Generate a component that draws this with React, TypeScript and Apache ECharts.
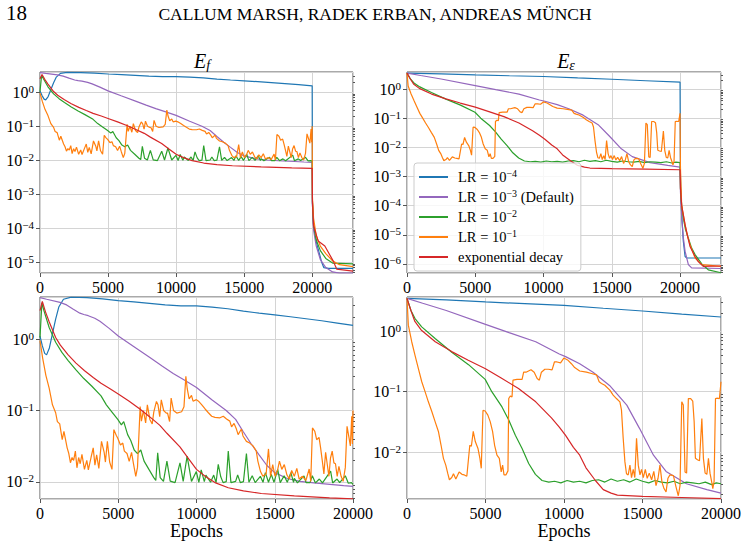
import React, { useEffect, useRef } from "react";
import * as echarts from "echarts";

// ---- Training curves, E_f (epochs 0..20000) ----
const efLr4: [number, number][] = [
  [0, 1.1], [150, 0.8], [300, 0.63], [420, 0.6], [600, 0.75], [800, 1.2], [1000, 1.9], [1200, 2.8],
  [1500, 3.6], [2000, 3.85], [3000, 3.8], [4000, 3.65], [5000, 3.45], [6000, 3.3], [7000, 3.15],
  [8000, 3.0], [9000, 2.9], [10000, 2.9], [11000, 2.8], [12000, 2.65], [13000, 2.45], [14000, 2.3],
  [15000, 2.18], [16000, 2.05], [17000, 1.92], [18000, 1.8], [19000, 1.67], [20000, 1.55],
];
const efLr3: [number, number][] = [
  [0, 3.8], [425, 3.6], [1280, 3.25], [1700, 3.0], [2130, 2.6], [2550, 2.3], [2800, 2.2], [3085, 2.12],
  [3500, 1.95], [3830, 1.77], [4400, 1.42], [5000, 1.1], [5960, 0.79], [7020, 0.55], [7800, 0.42],
  [8510, 0.33], [9300, 0.26], [10000, 0.21], [11000, 0.14], [11900, 0.1], [12500, 0.075], [13000, 0.05],
  [13500, 0.034], [14000, 0.024], [14500, 0.017], [15000, 0.0135], [15800, 0.0112], [16600, 0.0102],
  [17500, 0.0097], [18700, 0.0092], [19400, 0.0089], [20000, 0.0087],
];
const efLr2: [number, number][] = [
  [0, 1.05], [120, 3.2], [250, 2.5], [585, 1.45], [1000, 0.9], [1400, 0.65], [1800, 0.5], [2300, 0.37],
  [2800, 0.28], [3300, 0.22], [3900, 0.16], [4240, 0.12], [4600, 0.095], [4970, 0.075], [5200, 0.063],
  [5350, 0.07], [5600, 0.046], [5800, 0.038], [6020, 0.028], [6230, 0.025], [6440, 0.028], [6650, 0.0196],
  [6960, 0.015], [7270, 0.0115], [7400, 0.0105], [7520, 0.0256], [7680, 0.0115], [7890, 0.0102],
  [8110, 0.0196], [8320, 0.0103], [8630, 0.0098], [8945, 0.0185], [9150, 0.0102], [9400, 0.023],
  [9680, 0.0102], [9990, 0.014], [10150, 0.0099], [10300, 0.0148], [10500, 0.0101], [10600, 0.0125],
  [10900, 0.0099], [11100, 0.0125], [11250, 0.0098], [11390, 0.0177], [11550, 0.0118], [11700, 0.0098],
  [11900, 0.0101], [12030, 0.027], [12200, 0.0098], [12500, 0.0102], [12630, 0.0125], [12800, 0.0098],
  [13000, 0.0101], [13190, 0.025], [13350, 0.0099], [13560, 0.0122], [13750, 0.0098], [14080, 0.012],
  [14250, 0.0099], [14400, 0.0135], [14600, 0.0099], [14780, 0.0128], [14950, 0.0099], [15190, 0.015],
  [15350, 0.0098], [15600, 0.0122], [15800, 0.0099], [16030, 0.0135], [16200, 0.0099], [16250, 0.0112],
  [16450, 0.0097], [16870, 0.0122], [17000, 0.0098], [17250, 0.0098], [17400, 0.0122], [17600, 0.0097],
  [17850, 0.011], [18050, 0.0097], [18570, 0.0142], [18700, 0.0097], [18980, 0.011], [19150, 0.0098],
  [19510, 0.0122], [19700, 0.0096], [19900, 0.0098], [20000, 0.0093],
];
const efLr1: [number, number][] = [
  [0, 0.95], [170, 0.54], [375, 0.31], [585, 0.206], [795, 0.12], [1000, 0.093], [1110, 0.07],
  [1260, 0.065], [1420, 0.039], [1530, 0.051], [1735, 0.03], [1840, 0.025], [1945, 0.0186], [2050, 0.022],
  [2150, 0.02], [2260, 0.027], [2360, 0.0158], [2470, 0.022], [2570, 0.018], [2680, 0.0244], [2840, 0.015],
  [2990, 0.02], [3090, 0.0148], [3260, 0.022], [3400, 0.03], [3510, 0.0172], [3620, 0.024], [3760, 0.0155],
  [3930, 0.037], [4100, 0.026], [4180, 0.019], [4305, 0.037], [4450, 0.019], [4600, 0.015], [4720, 0.054],
  [4870, 0.045], [4970, 0.041], [5140, 0.033], [5290, 0.035], [5390, 0.027], [5560, 0.025], [5700, 0.0194],
  [5850, 0.026], [5980, 0.0176], [6120, 0.012], [6230, 0.016], [6400, 0.114], [6480, 0.071], [6610, 0.1],
  [6750, 0.067], [6860, 0.12], [7020, 0.075], [7170, 0.065], [7270, 0.095], [7440, 0.134], [7540, 0.12],
  [7650, 0.082], [7750, 0.141], [7900, 0.1], [8070, 0.092], [8150, 0.092], [8280, 0.07], [8380, 0.149],
  [8530, 0.1], [8740, 0.092], [9050, 0.096], [9200, 0.113], [9320, 0.3], [9410, 0.2], [9530, 0.145],
  [9680, 0.163], [9780, 0.135], [9990, 0.142], [10127, 0.135], [10340, 0.12], [10550, 0.105],
  [10760, 0.093], [10970, 0.083], [11180, 0.08], [11500, 0.079], [11710, 0.083], [11920, 0.076],
  [12130, 0.071], [12240, 0.059], [12400, 0.066], [12550, 0.055], [12660, 0.046], [12870, 0.055],
  [12970, 0.044], [13190, 0.037], [13400, 0.035], [13610, 0.032], [13820, 0.027], [13920, 0.0196],
  [14090, 0.014], [14240, 0.012], [14450, 0.013], [14600, 0.029], [14730, 0.012], [14870, 0.0175],
  [15020, 0.012], [15190, 0.015], [15300, 0.0196], [15450, 0.015], [15610, 0.0175], [15780, 0.0125],
  [15930, 0.011], [16080, 0.0145], [16250, 0.012], [16410, 0.0155], [16560, 0.011], [16770, 0.012],
  [16990, 0.0105], [17200, 0.0152], [17300, 0.0102], [17410, 0.057], [17560, 0.051], [17680, 0.039],
  [17830, 0.042], [17930, 0.03], [18040, 0.0196], [18140, 0.013], [18250, 0.026], [18350, 0.018],
  [18460, 0.012], [18560, 0.0215], [18670, 0.027], [18780, 0.0185], [18880, 0.018], [18990, 0.012],
  [19100, 0.0165], [19240, 0.012], [19370, 0.0102], [19510, 0.016], [19620, 0.06], [19750, 0.041],
  [19830, 0.032], [19920, 0.083], [19960, 0.034], [20000, 0.1],
];
const efExp: [number, number][] = [
  [0, 2.5], [150, 3.35], [350, 2.4], [585, 1.74], [1000, 1.05], [1300, 0.82], [1800, 0.6], [2300, 0.46],
  [2850, 0.36], [3400, 0.29], [3900, 0.24], [4500, 0.2], [5000, 0.17], [5700, 0.135], [6380, 0.105],
  [7000, 0.082], [7660, 0.062], [8110, 0.048], [8940, 0.031], [9500, 0.021], [10000, 0.015],
  [10550, 0.012], [11180, 0.0098], [12030, 0.0083], [13000, 0.0075], [14140, 0.0069], [16250, 0.0064],
  [18500, 0.006], [20000, 0.0058],
];

// ---- E_f after epoch 20000 ----
const efLr4Tail: [number, number][] = [
  [20020, 5e-4], [20100, 1.2e-4], [20300, 4e-5], [20500, 2e-5], [20700, 1e-5], [20850, 7e-6],
  [21200, 6.6e-6], [23000, 6.6e-6],
];
const efLr3Tail: [number, number][] = [
  [20020, 5e-4], [20100, 9e-5], [20300, 3e-5], [20600, 1.2e-5], [21000, 7e-6], [21500, 5.2e-6],
  [22000, 4.8e-6], [23000, 4.8e-6],
];
const efLr2Tail: [number, number][] = [
  [20020, 6e-4], [20100, 1.3e-4], [20300, 4.5e-5], [20600, 2.2e-5], [21000, 1.3e-5], [21500, 9.5e-6],
  [23000, 9e-6],
];
const efLr1Tail: [number, number][] = [
  [20020, 8e-4], [20100, 2e-4], [20300, 6e-5], [20600, 3e-5], [21000, 1.8e-5], [21500, 1.1e-5],
  [22000, 8.5e-6], [23000, 7.5e-6],
];
const efExpTail: [number, number][] = [
  [20020, 6e-4], [20100, 1.2e-4], [20440, 4.2e-5], [20930, 3e-5], [21540, 1.1e-5], [21800, 6.3e-6],
  [23000, 5.5e-6],
];

// ---- Training curves, E_eps (epochs 0..20000) ----
const epsLr4: [number, number][] = [
  [0, 3.5], [2500, 3.3], [5000, 3.05], [7500, 2.85], [10000, 2.68], [12500, 2.4], [15000, 2.16],
  [17500, 1.92], [20000, 1.72],
];
const epsLr3: [number, number][] = [
  [0, 3.5], [1000, 2.9], [2500, 2.2], [5000, 1.3], [6500, 0.95], [8200, 0.67], [9700, 0.42],
  [10100, 0.38], [11000, 0.29], [11850, 0.21], [12900, 0.127], [14000, 0.06], [14800, 0.025],
  [15700, 0.0089], [16500, 0.0048], [17800, 0.003], [19100, 0.0024], [20000, 0.0021],
];
const epsLr2: [number, number][] = [
  [0, 3.5], [250, 2.2], [511, 1.62], [937, 1.18], [1790, 0.76], [2850, 0.45], [3920, 0.28], [4980, 0.16],
  [5400, 0.1], [6050, 0.056], [6480, 0.034], [6900, 0.019], [7330, 0.0115], [7750, 0.0065],
  [8180, 0.0043], [8600, 0.0034], [9030, 0.0032], [9400, 0.0033], [9800, 0.0031], [10200, 0.0034],
  [10600, 0.0032], [11000, 0.0033], [11400, 0.0031], [11800, 0.0034], [12200, 0.0035], [12600, 0.0032],
  [13000, 0.0036], [13400, 0.0033], [13800, 0.0035], [14200, 0.0032], [14600, 0.0036], [15000, 0.0033],
  [15400, 0.0031], [15800, 0.0034], [16200, 0.0032], [16600, 0.0031], [17000, 0.0033], [17400, 0.003],
  [17800, 0.0032], [18200, 0.0031], [18600, 0.003], [19000, 0.0032], [19400, 0.0029], [19700, 0.0031],
  [20000, 0.003],
];
const epsLr1: [number, number][] = [
  [0, 3.5], [85, 1.26], [300, 0.67], [511, 0.4], [725, 0.24], [940, 0.146], [1150, 0.1], [1360, 0.068],
  [1580, 0.047], [1790, 0.032], [2000, 0.022], [2170, 0.013], [2320, 0.0079], [2470, 0.0061],
  [2600, 0.0044], [2700, 0.0035], [2850, 0.0038], [2960, 0.0044], [3110, 0.0036], [3320, 0.0047],
  [3500, 0.0043], [3650, 0.0042], [3810, 0.004], [4000, 0.013], [4100, 0.0125], [4220, 0.022],
  [4350, 0.015], [4520, 0.0115], [4640, 0.008], [4730, 0.0054], [4840, 0.049], [4980, 0.048],
  [5150, 0.041], [5300, 0.032], [5450, 0.022], [5580, 0.013], [5730, 0.0089], [5880, 0.0079],
  [6000, 0.0047], [6090, 0.0061], [6180, 0.0042], [6300, 0.0042], [6430, 0.0049], [6480, 0.077],
  [6580, 0.085], [6690, 0.082], [6750, 0.155], [7010, 0.16], [7330, 0.16], [7430, 0.21], [7580, 0.21],
  [7900, 0.23], [8100, 0.21], [8290, 0.165], [8430, 0.155], [8560, 0.21], [8780, 0.235], [9000, 0.235],
  [9240, 0.23], [9390, 0.31], [9560, 0.31], [9780, 0.3], [9990, 0.36], [10260, 0.33], [10470, 0.29],
  [10680, 0.25], [11000, 0.22], [11430, 0.21], [11750, 0.2], [12070, 0.19], [12240, 0.146],
  [12390, 0.137], [12600, 0.128], [12920, 0.106], [13130, 0.088], [13340, 0.077], [13560, 0.068],
  [13660, 0.05], [13770, 0.017], [13880, 0.0069], [13980, 0.0044], [14090, 0.0042], [14200, 0.0061],
  [14300, 0.0038], [14410, 0.0052], [14510, 0.0038], [14620, 0.017], [14730, 0.0061], [14840, 0.0042],
  [14940, 0.0052], [15050, 0.0038], [15180, 0.0052], [15300, 0.0037], [15430, 0.0045], [15580, 0.0035],
  [15720, 0.0048], [15860, 0.0028], [15990, 0.0037], [16110, 0.0061], [16240, 0.0032], [16370, 0.0025],
  [16500, 0.0022], [16620, 0.0037], [16750, 0.0042], [16970, 0.0041], [17130, 0.0027], [17280, 0.0019],
  [17390, 0.0028], [17500, 0.068], [17600, 0.06], [17710, 0.0047], [17810, 0.0045], [17920, 0.077],
  [18070, 0.077], [18200, 0.07], [18290, 0.032], [18370, 0.0079], [18500, 0.0075], [18630, 0.0072],
  [18780, 0.036], [18880, 0.0079], [18990, 0.0045], [19100, 0.0043], [19200, 0.0079], [19300, 0.0045],
  [19410, 0.0032], [19480, 0.0025], [19560, 0.0033], [19650, 0.077], [19730, 0.078], [19900, 0.077],
  [20000, 0.146],
];
const epsExp: [number, number][] = [
  [0, 3.5], [250, 2.2], [500, 1.45], [900, 1.05], [1800, 0.67], [2850, 0.46], [3900, 0.33], [5000, 0.24],
  [6000, 0.168], [7100, 0.113], [8200, 0.068], [9200, 0.037], [9700, 0.026], [10100, 0.019],
  [10600, 0.012], [11000, 0.0089], [11400, 0.0055], [12000, 0.0034], [12500, 0.0024], [13000, 0.0021],
  [13400, 0.00195], [15000, 0.00185], [17500, 0.00178], [20000, 0.0017],
];

// ---- E_eps after epoch 20000 ----
const epsLr4Tail: [number, number][] = [
  [20030, 1e-3], [20120, 5e-5], [20240, 6e-6], [20370, 1.8e-6], [20500, 1.6e-6], [23000, 1.6e-6],
];
const epsLr3Tail: [number, number][] = [
  [20030, 3e-4], [20120, 4e-5], [20240, 8e-6], [20370, 2.7e-6], [20610, 9.5e-7], [20850, 7.3e-7],
  [23000, 7e-7],
];
const epsLr2Tail: [number, number][] = [
  [20030, 4e-4], [20120, 1e-4], [20240, 3.7e-5], [20400, 1.5e-5], [20610, 7.7e-6], [20850, 3.5e-6],
  [21100, 2.1e-6], [21590, 1e-6], [22070, 6.3e-7], [23000, 5e-7],
];
const epsLr1Tail: [number, number][] = [
  [20030, 2e-3], [20120, 1e-4], [20370, 2.2e-5], [20550, 9e-6], [20730, 4.6e-6], [21100, 1.6e-6],
  [21590, 9.5e-7], [23000, 8.3e-7],
];
const epsExpTail: [number, number][] = [
  [20030, 4e-4], [20120, 1e-4], [20370, 2.2e-5], [20550, 9e-6], [20730, 4e-6], [21100, 1.8e-6],
  [21340, 1.2e-6], [21700, 8.3e-7], [23000, 8.5e-7],
];

const seriesNames = ["LR = 1e-4", "LR = 1e-3 (Default)", "LR = 1e-2", "LR = 1e-1", "exponential decay"];
const legendLabels: Record<string, string> = {
  "LR = 1e-4": "LR = 10{sup|\u22124}",
  "LR = 1e-3 (Default)": "LR = 10{sup|\u22123} (Default)",
  "LR = 1e-2": "LR = 10{sup|\u22122}",
  "LR = 1e-1": "LR = 10{sup|\u22121}",
  "exponential decay": "exponential decay",
};
const colors = ["#1f77b4", "#9467bd", "#2ca02c", "#ff7f0e", "#d62728"];

const efCurves = [efLr4, efLr3, efLr2, efLr1, efExp];
const efTails = [efLr4Tail, efLr3Tail, efLr2Tail, efLr1Tail, efExpTail];
const epsCurves = [epsLr4, epsLr3, epsLr2, epsLr1, epsExp];
const epsTails = [epsLr4Tail, epsLr3Tail, epsLr2Tail, epsLr1Tail, epsExpTail];

const FONT = "'Liberation Serif', 'DejaVu Serif', serif";

function minorTicks(lo: number, hi: number): number[] {
  const out: number[] = [];
  for (let e = Math.floor(Math.log10(lo)); e <= Math.ceil(Math.log10(hi)); e++) {
    for (let m = 2; m <= 9; m++) {
      const v = m * Math.pow(10, e);
      if (v > lo && v < hi) out.push(v);
    }
  }
  return out;
}

export default function App() {
  const ref = useRef<HTMLDivElement>(null);

  useEffect(() => {
    document.body.style.margin = "0";
    if (!ref.current) return;
    const chart = echarts.init(ref.current, undefined, { renderer: "svg" });

    const panels = [
      { left: 40, top: 72, width: 313, height: 201, xMax: 23000, yMin: 4.84e-6, yMax: 3.95, curves: efCurves, tails: efTails, epochs: false },
      { left: 407, top: 72, width: 314, height: 201, xMax: 23000, yMin: 4.9e-7, yMax: 3.83, curves: epsCurves, tails: epsTails, epochs: false },
      { left: 40, top: 297, width: 313, height: 202, xMax: 20000, yMin: 5.78e-3, yMax: 3.87, curves: efCurves, tails: null, epochs: true },
      { left: 407, top: 297, width: 314, height: 202, xMax: 20000, yMin: 1.68e-3, yMax: 3.68, curves: epsCurves, tails: null, epochs: true },
    ];

    const labelStyle = { fontFamily: FONT, fontSize: 16, color: "#000" };

    const grid = panels.map((p) => ({
      left: p.left, top: p.top, width: p.width, height: p.height,
      show: true, borderColor: "#555", borderWidth: 1, backgroundColor: "transparent",
      containLabel: false,
    }));

    const xAxis = panels.map((p, i) => ({
      type: "value", gridIndex: i, min: 0, max: p.xMax, interval: 5000,
      axisLine: { show: false },
      axisTick: { show: true, length: 4, lineStyle: { color: "#555" } },
      axisLabel: { ...labelStyle, margin: 6, showMaxLabel: p.xMax === 20000, formatter: (v: number) => String(v) },
      splitLine: { show: true, lineStyle: { color: "#d4d4d4", width: 1 } },
      name: p.epochs ? "Epochs" : "",
      nameLocation: "middle",
      nameGap: 22,
      nameTextStyle: { fontFamily: FONT, fontSize: 18, color: "#000" },
    }));

    const supRich = {
      b: { fontFamily: FONT, fontSize: 16, lineHeight: 18, color: "#000" },
      sup: { fontFamily: FONT, fontSize: 11, lineHeight: 11, verticalAlign: "top", color: "#000" },
    };

    const yMain = panels.map((p, i) => ({
      type: "log", logBase: 10, gridIndex: i, min: p.yMin, max: p.yMax,
      axisLine: { show: false },
      axisTick: { show: true, length: 4, lineStyle: { color: "#555" } },
      axisLabel: {
        margin: 6, showMinLabel: false, showMaxLabel: false,
        formatter: (v: number) => {
          const e = Math.round(Math.log10(v));
          return `{b|10}{sup|${e < 0 ? "\u2212" + -e : e}}`;
        },
        rich: supRich,
      },
      splitLine: { show: true, lineStyle: { color: "#d4d4d4", width: 1 } },
    }));
    const yMinor = panels.map((p, i) => ({
      type: "log", logBase: 10, gridIndex: i, min: p.yMin, max: p.yMax,
      axisLine: { show: false },
      axisTick: { show: true, length: 2, customValues: minorTicks(p.yMin, p.yMax), lineStyle: { color: "#555" } },
      axisLabel: { show: false },
      splitLine: { show: false },
    }));

    const series: any[] = [];
    panels.forEach((p, gi) => {
      p.curves.forEach((curve, si) => {
        const data = p.tails ? curve.concat(p.tails[si]) : curve;
        series.push({
          type: "line", name: seriesNames[si], xAxisIndex: gi, yAxisIndex: gi,
          data, showSymbol: false, symbol: "none", silent: true, clip: true,
          color: colors[si],
          lineStyle: { color: colors[si], width: 1.2 },
        });
      });
    });

    const titleRich = {
      e: { fontFamily: FONT, fontSize: 20, fontStyle: "italic", lineHeight: 22, fill: "#000" },
      s: { fontFamily: FONT, fontSize: 14, fontStyle: "italic", lineHeight: 12, verticalAlign: "bottom", fill: "#000" },
    };

    chart.setOption({
      animation: false,
      grid,
      xAxis,
      yAxis: [...yMain, ...yMinor],
      series,
      legend: {
        data: seriesNames, orient: "vertical", left: 414, top: 163,
        padding: [5, 7, 5, 5], itemGap: 2, itemWidth: 29, itemHeight: 2, icon: "rect",
        backgroundColor: "rgba(255,255,255,0.8)", borderColor: "#cccccc", borderWidth: 1, borderRadius: 3,
        selectedMode: false,
        formatter: (name: string) => legendLabels[name],
        textStyle: {
          fontFamily: FONT, fontSize: 14.5, color: "#000", lineHeight: 18, padding: [0, 0, 0, 5],
          rich: { sup: { fontFamily: FONT, fontSize: 10, lineHeight: 10, verticalAlign: "top", color: "#000" } },
        },
      },
      graphic: [
        { type: "text", x: 6, y: 13, style: { text: "18", fontFamily: FONT, fontSize: 21, fill: "#000", align: "left", verticalAlign: "middle" } },
        { type: "text", x: 375, y: 14, style: { text: "CALLUM MARSH, RADEK ERBAN, ANDREAS M\u00dcNCH", fontFamily: FONT, fontSize: 17.5, fill: "#000", align: "center", verticalAlign: "middle" } },
        { type: "text", x: 202, y: 61, style: { text: "{e|E}{s|f}", rich: titleRich, align: "center", verticalAlign: "middle" } },
        { type: "text", x: 566, y: 61, style: { text: "{e|E}{s|\u03b5}", rich: titleRich, align: "center", verticalAlign: "middle" } },
      ],
    });

    return () => chart.dispose();
  }, []);

  return <div ref={ref} style={{ width: 744, height: 542, position: "absolute", left: 0, top: 0 }} />;
}
